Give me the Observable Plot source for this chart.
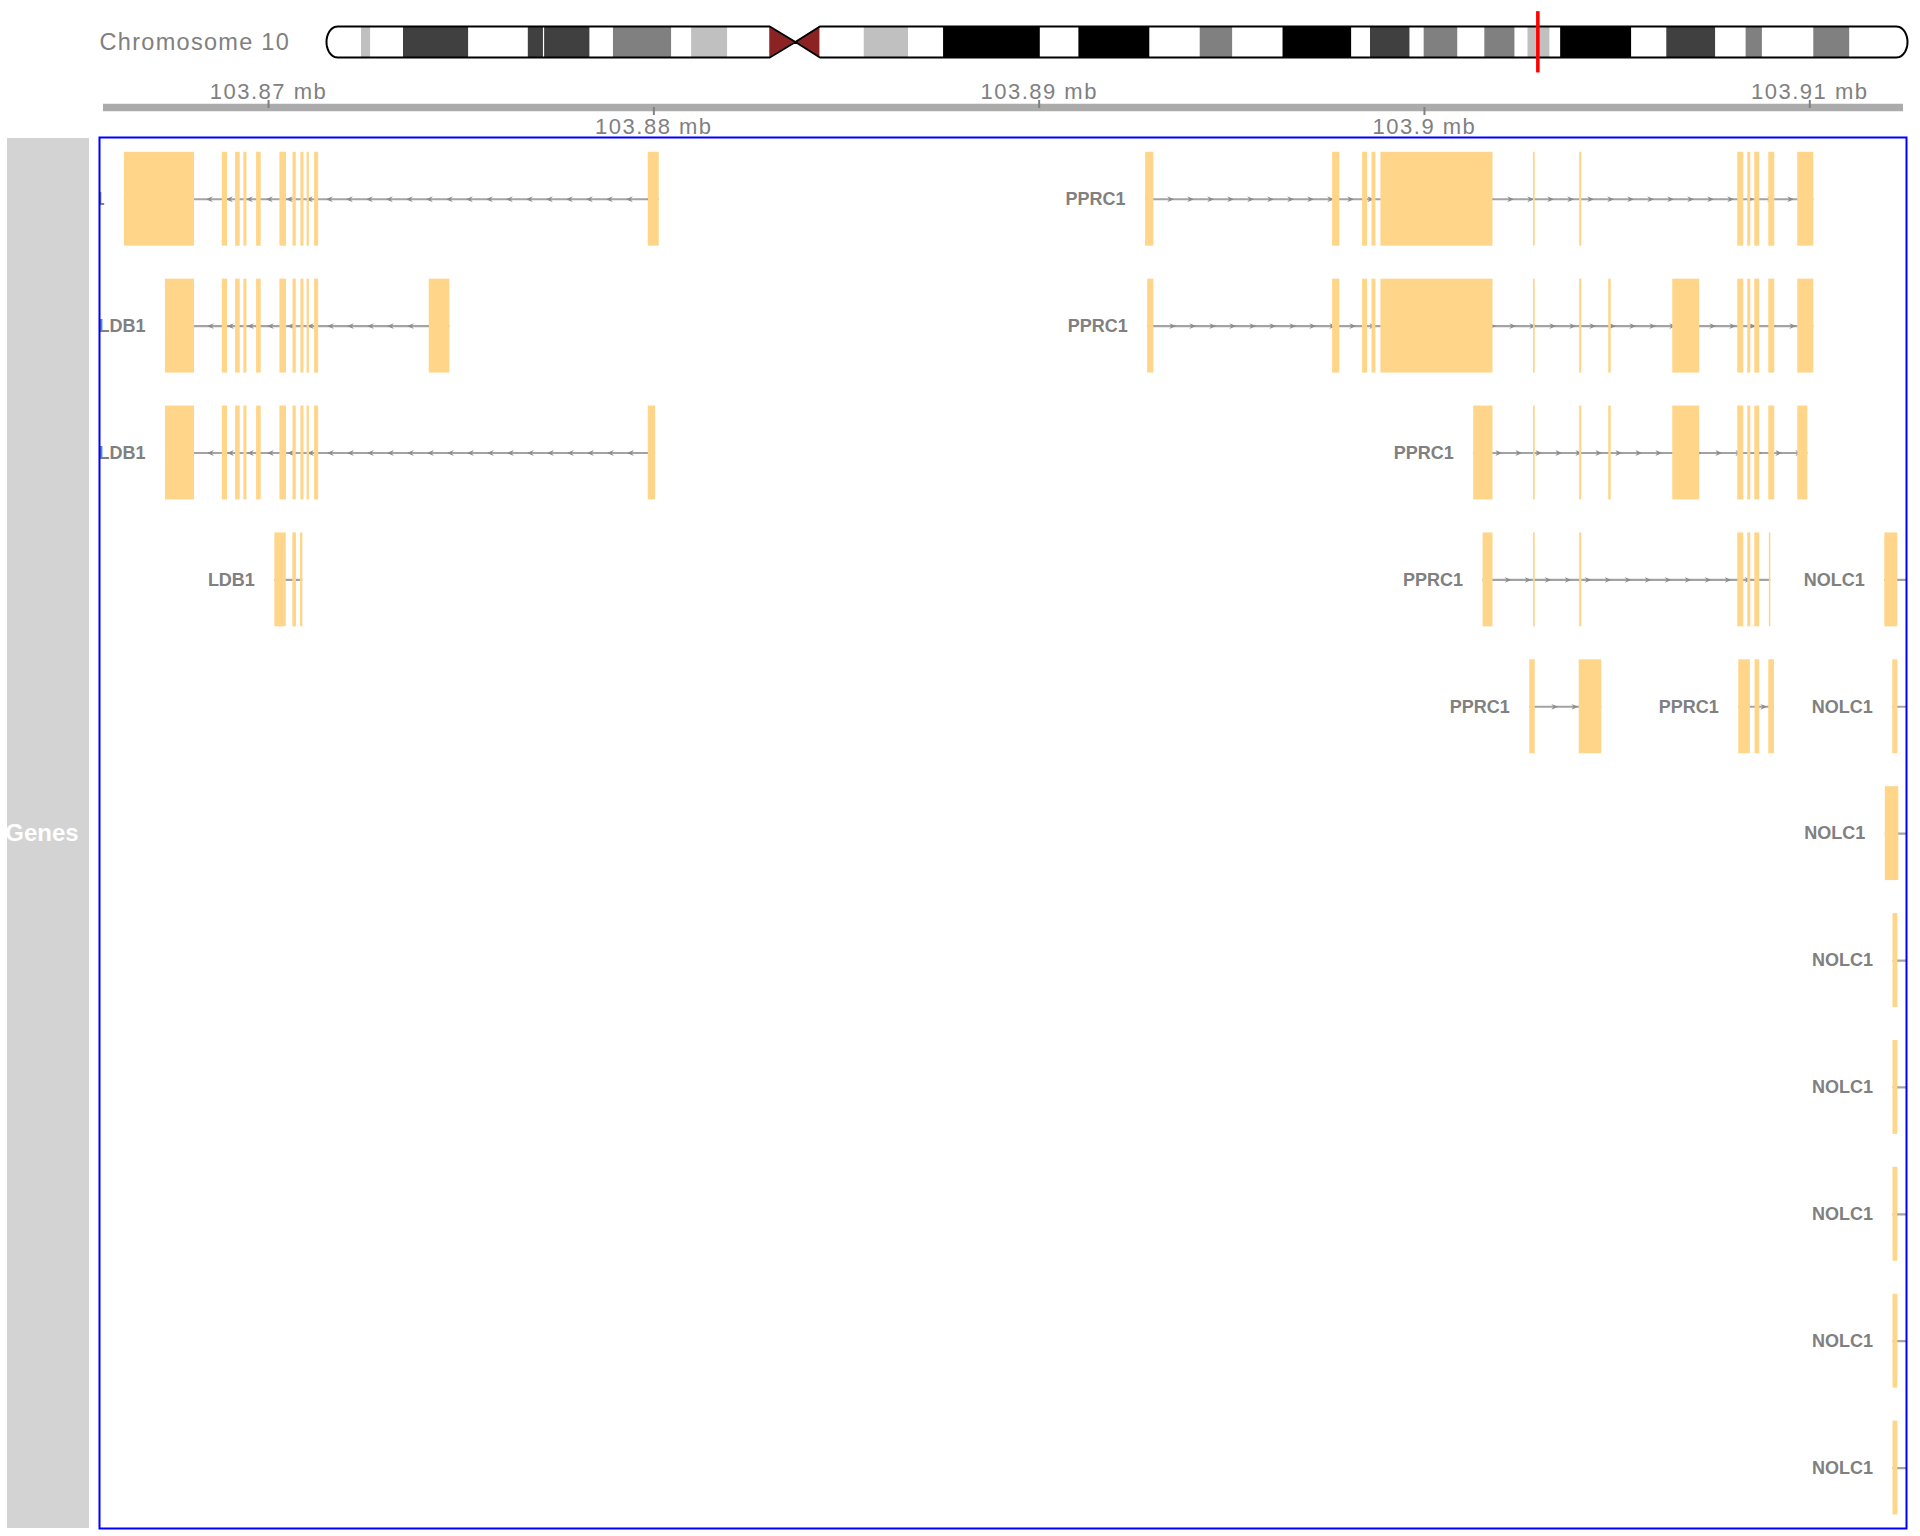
<!DOCTYPE html>
<html>
<head>
<meta charset="utf-8">
<script src="https://cdn.jsdelivr.net/npm/d3@7"></script>
<script src="https://cdn.jsdelivr.net/npm/@observablehq/plot@0.6"></script>
<style>
  html, body { margin: 0; padding: 0; background: #fff; overflow: hidden; }
  #wrap { position: relative; width: 1920px; height: 1536px; overflow: hidden; font-family: "Liberation Sans", Arial, sans-serif; }
  #wrap svg { position: absolute; left: 0; overflow: visible; }
  #panel { position: absolute; left: 7px; top: 138px; width: 82px; height: 1390px; background: #d3d3d3; }
  #panel span { position: absolute; left: 35px; top: 50%; transform: translate(-50%, -50%); color: #fff; font-weight: bold; font-size: 24px; white-space: nowrap; }
</style>
</head>
<body>
<div id="wrap"><div id="panel"><span>Genes</span></div></div>
<script>
// ---------------- data ----------------
const chromName = "Chromosome 10";
const chromLength = 135534747;
const bandStart = [0,3000000,3800000,6600000,12200000,17300000,18600000,18700000,22600000,24600000,29600000,31300000,34400000,38000000,40200000,42300000,46100000,49900000,52900000,61200000,64500000,70600000,74900000,77700000,82000000,87900000,89500000,92900000,94100000,97000000,99300000,101900000,103000000,104900000,105800000,111900000,114900000,119100000,121700000,123100000,127500000,130600000];
const bandEnd   = [3000000,3800000,6600000,12200000,17300000,18600000,18700000,22600000,24600000,29600000,31300000,34400000,38000000,40200000,42300000,46100000,49900000,52900000,61200000,64500000,70600000,74900000,77700000,82000000,87900000,89500000,92900000,94100000,97000000,99300000,101900000,103000000,104900000,105800000,111900000,114900000,119100000,121700000,123100000,127500000,130600000,135534747];
const bandStain = ["gneg","gpos25","gneg","gpos75","gneg","gpos75","gneg","gpos75","gneg","gpos50","gneg","gpos25","gneg","acen","acen","gneg","gpos25","gneg","gpos100","gneg","gpos100","gneg","gpos50","gneg","gpos100","gneg","gpos75","gneg","gpos50","gneg","gpos50","gneg","gpos25","gneg","gpos100","gneg","gpos75","gneg","gpos50","gneg","gpos50","gneg"];
const stainColor = {gneg: "#FFFFFF", gpos25: "#C0C0C0", gpos50: "#808080", gpos75: "#404040", gpos100: "#000000", acen: "#8B2323"};

const viewStart = 103865613;
const viewEnd = 103912510;
const ticksAbove = [103870000, 103890000, 103910000];
const ticksBelow = [103880000, 103900000];

const ldb1Mid = [[103868800,103868935],[103869145,103869265],[103869360,103869440],[103869690,103869810],[103870295,103870465],[103870635,103870720],[103870840,103870920],[103871000,103871060],[103871195,103871300]];

const txGene   = ["LDB1","PPRC1","LDB1","PPRC1","LDB1","PPRC1","LDB1","PPRC1","NOLC1","PPRC1","PPRC1","NOLC1","NOLC1","NOLC1","NOLC1","NOLC1","NOLC1","NOLC1"];
const txRow    = [1,1,2,2,3,3,4,4,4,5,5,5,6,7,8,9,10,11];
const txStrand = ["-","+","-","+","-","+","-","+","+","+","+","+","+","+","+","+","+","+"];
const txExons = [
  [[103866260,103868080], ...ldb1Mid, [103879855,103880140]],
  [[103892762,103892977],[103897616,103897803],[103898394,103898524],[103898638,103898740],[103898869,103901779],[103902830,103902874],[103904027,103904084],[103908131,103908287],[103908390,103908468],[103908572,103908702],[103908936,103909091],[103909688,103910104]],
  [[103867325,103868080], ...ldb1Mid, [103874170,103874705]],
  [[103892816,103892977],[103897616,103897803],[103898394,103898524],[103898638,103898740],[103898869,103901779],[103902830,103902874],[103904027,103904084],[103904782,103904847],[103906444,103907144],[103908131,103908287],[103908390,103908468],[103908572,103908702],[103908936,103909091],[103909688,103910104]],
  [[103867325,103868080], ...ldb1Mid, [103879855,103880045]],
  [[103901278,103901779],[103902830,103902874],[103904027,103904084],[103904782,103904847],[103906444,103907144],[103908131,103908287],[103908390,103908468],[103908572,103908702],[103908936,103909091],[103909688,103909948]],
  [[103870165,103870460],[103870630,103870725],[103870830,103870890]],
  [[103901520,103901779],[103902830,103902874],[103904027,103904084],[103908131,103908287],[103908390,103908468],[103908572,103908702],[103908950,103908990]],
  [[103911947,103912284]],
  [[103902732,103902874],[103904016,103904601]],
  [[103908157,103908458],[103908580,103908702],[103908936,103909083]],
  [[103912154,103912284]],
  [[103911960,103912310]],
  [[103912160,103912284]],
  [[103912160,103912284]],
  [[103912160,103912284]],
  [[103912160,103912284]],
  [[103912160,103912284]]
];
// NOLC1 transcripts run on past the right edge of the view
const txEndBeyond = [null,null,null,null,null,null,null,null,103923600,null,null,103923600,103923600,103923600,103923600,103923600,103923600,103923600];

// ---------------- derived tables ----------------
const bands = bandStart.map((s, i) => ({start: s, end: bandEnd[i], stain: bandStain[i]}));
const acen = bands.filter(b => b.stain === "acen");
const cenA = acen[0].start, cenM = acen[0].end, cenB = acen[acen.length - 1].end;

const tx = txGene.map((g, i) => {
  const ex = txExons[i];
  const start = d3.min(ex, e => e[0]);
  const end = txEndBeyond[i] != null ? txEndBeyond[i] : d3.max(ex, e => e[1]);
  return {gene: g, row: txRow[i], strand: txStrand[i], start, end};
});
const exons = txExons.flatMap((ex, i) => ex.map(e => ({row: txRow[i], start: e[0], end: e[1]})));

// ---------------- layout constants ----------------
const W = 1920;
const gLeft = 99, gRight = 14;
const pxPerBp = (W - gLeft - gRight) / (viewEnd - viewStart);

// intron direction glyphs (decoration at regular screen spacing, as the genome browser draws them)
const arrows = [];
for (const t of tx) {
  const step = 20 / pxPerBp, off = 25 / pxPerBp, stop = t.end - 4 / pxPerBp;
  for (let p = t.start + off; p < stop; p += step) arrows.push({x: p, row: t.row, strand: t.strand});
}
const arrowRight = {draw(ctx, size) { const s = Math.sqrt(size / Math.PI); ctx.moveTo(s, 0); ctx.lineTo(-s, -s * 0.85); ctx.lineTo(-s * 0.3, 0); ctx.lineTo(-s, s * 0.85); ctx.closePath(); }};
const arrowLeft  = {draw(ctx, size) { const s = Math.sqrt(size / Math.PI); ctx.moveTo(-s, 0); ctx.lineTo(s, -s * 0.85); ctx.lineTo(s * 0.3, 0); ctx.lineTo(s, s * 0.85); ctx.closePath(); }};

// ideogram outline
const capRx = 0.95e6;
const outline = [];
outline.push({x: capRx, y: 1}, {x: cenA, y: 1}, {x: cenM, y: 0.5}, {x: cenB, y: 1}, {x: chromLength - capRx, y: 1});
for (let k = 1; k <= 24; k++) { const a = Math.PI / 2 - Math.PI * k / 24; outline.push({x: chromLength - capRx + capRx * Math.cos(a), y: 0.5 + 0.5 * Math.sin(a)}); }
outline.push({x: cenB, y: 0}, {x: cenM, y: 0.5}, {x: cenA, y: 0}, {x: capRx, y: 0});
for (let k = 1; k <= 24; k++) { const a = 3 * Math.PI / 2 - Math.PI * k / 24; outline.push({x: capRx + capRx * Math.cos(a), y: 0.5 + 0.5 * Math.sin(a)}); }
const acenArea = [{x: cenA, y1: 0, y2: 1}, {x: cenM, y1: 0.5, y2: 0.5}, {x: cenB, y1: 0, y2: 1}];

const fontFamily = '"Liberation Sans", Arial, Helvetica, sans-serif';
const wrap = document.getElementById("wrap");

// ---------------- gene track ----------------
const genes = Plot.plot({
  width: W, height: 1536,
  marginLeft: gLeft, marginRight: gRight, marginTop: 137, marginBottom: 8,
  x: {domain: [viewStart, viewEnd], axis: null},
  y: {domain: [0.5, 11.5], range: [135.3, 1531], axis: null},
  style: {fontFamily, background: "transparent", overflow: "visible"},
  marks: [
    Plot.ruleY(tx, {y: "row", x1: "start", x2: "end", stroke: "#a3a3a3", strokeWidth: 2.2, clip: true}),
    Plot.dot(arrows.filter(a => a.strand === "+"), {x: "x", y: "row", r: 3.4, symbol: arrowRight, fill: "#8c8c8c", stroke: "none", clip: true}),
    Plot.dot(arrows.filter(a => a.strand === "-"), {x: "x", y: "row", r: 3.4, symbol: arrowLeft, fill: "#8c8c8c", stroke: "none", clip: true}),
    Plot.rect(exons, {x1: "start", x2: "end", y1: d => d.row - 0.37, y2: d => d.row + 0.37, fill: "#FFD58A", clip: true}),
    Plot.text(tx, {x: "start", y: "row", text: "gene", textAnchor: "end", dx: -20, fill: "#808080", fontWeight: "bold", fontSize: 18, clip: true}),
    Plot.frame({stroke: "blue", strokeWidth: 2})
  ]
});
genes.style.top = "0px";
wrap.appendChild(genes);

// ---------------- genome axis ----------------
const fmt = d => (d / 1e6) + " mb";
const axis = Plot.plot({
  width: W, height: 67,
  marginLeft: gLeft, marginRight: gRight, marginTop: 37, marginBottom: 30,
  x: {domain: [viewStart, viewEnd], axis: null},
  y: {domain: [0, 1], axis: null},
  style: {fontFamily, fontSize: "22px", letterSpacing: "1.5px", color: "#808080", background: "transparent", overflow: "visible"},
  marks: [
    Plot.ruleY([0], {stroke: "#ababab", strokeWidth: 7.5, insetLeft: 4, insetRight: 3}),
    Plot.axisX({ticks: ticksAbove, anchor: "top", tickSize: 8, tickPadding: 1, tickFormat: fmt, label: null, fontSize: 22, strokeWidth: 2}),
    Plot.axisX({ticks: ticksBelow, anchor: "bottom", tickSize: 8, tickPadding: 3, tickFormat: fmt, label: null, fontSize: 22, strokeWidth: 2})
  ]
});
axis.style.top = "70px";
wrap.appendChild(axis);

// ---------------- ideogram ----------------
const ideo = Plot.plot({
  width: W, height: 80,
  marginLeft: 326, marginRight: 13, marginTop: 26, marginBottom: 23,
  x: {domain: [0, chromLength], axis: null},
  y: {domain: [0, 1], axis: null},
  color: {type: "identity"},
  style: {fontFamily, letterSpacing: "1.3px", background: "transparent", overflow: "visible"},
  marks: [
    Plot.rect(bands.filter(b => b.stain !== "acen"), {x1: "start", x2: "end", y1: 0, y2: 1, fill: d => stainColor[d.stain]}),
    Plot.areaY(acenArea, {x: "x", y1: "y1", y2: "y2", fill: stainColor.acen}),
    Plot.line(outline, {x: "x", y: "y", stroke: "black", strokeWidth: 2, strokeLinejoin: "round"}),
    Plot.rect([{start: viewStart, end: viewEnd}], {x1: "start", x2: "end", y1: -0.45, y2: 1.43, stroke: "red", strokeWidth: 3, fill: "none"}),
    Plot.text([chromName], {frameAnchor: "left", dx: -227, textAnchor: "start", fill: "#808080", fontSize: 23.5})
  ]
});
ideo.style.top = "0px";
wrap.appendChild(ideo);
</script>
</body>
</html>
